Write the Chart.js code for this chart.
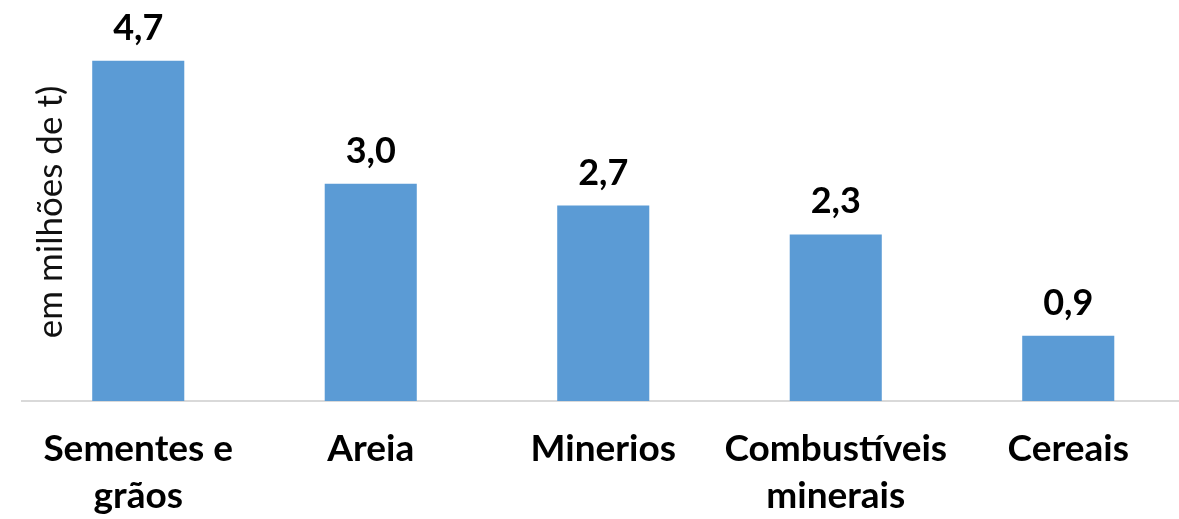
<!DOCTYPE html>
<html>
<head>
<meta charset="utf-8">
<script src="https://cdn.jsdelivr.net/npm/chart.js@4.4.0/dist/chart.umd.min.js"></script>
<style>
    html, body { margin: 0; padding: 0; background: #fff; overflow: hidden; }
    #wrap { width: 1190px; height: 519px; position: relative; }
</style>
</head>
<body>
<div id="wrap"><canvas id="chart"></canvas></div>
<script>
// Chart data
const categories = [['Sementes e', 'grãos'], 'Areia', 'Minerios', ['Combustíveis', 'minerais'], 'Cereais'];
const values = [4.7, 3.0, 2.7, 2.3, 0.9];
const yAxisTitle = 'em milhões de t)';

const FONT = 'Lato, "Open Sans", sans-serif';

// value labels above each bar, with a comma as decimal mark
const valueLabels = {
    id: 'valueLabels',
    afterDatasetsDraw(chart) {
        const ctx = chart.ctx;
        const meta = chart.getDatasetMeta(0);
        ctx.save();
        ctx.font = 'bold 36px ' + FONT;
        ctx.fillStyle = '#000';
        ctx.textAlign = 'center';
        ctx.textBaseline = 'alphabetic';
        meta.data.forEach((bar, i) => {
            const txt = values[i].toFixed(1).replace('.', ',');
            ctx.fillText(txt, bar.x, bar.y - 21);
        });
        ctx.restore();
    }
};

// rotated axis title sitting inside the plot, like the original
const sideTitle = {
    id: 'sideTitle',
    afterDraw(chart) {
        const ctx = chart.ctx;
        ctx.save();
        ctx.translate(51, 212);
        ctx.rotate(-Math.PI / 2);
        ctx.font = '35px ' + FONT;
        ctx.fillStyle = '#111';
        ctx.textAlign = 'center';
        ctx.textBaseline = 'middle';
        ctx.fillText(yAxisTitle, 0, 0);
        ctx.restore();
    }
};

new Chart(document.getElementById('chart'), {
    type: 'bar',
    data: {
        labels: categories,
        datasets: [{
            data: values,
            backgroundColor: '#5b9bd5',
            categoryPercentage: 1,
            barPercentage: 0.396
        }]
    },
    options: {
        responsive: true,
        maintainAspectRatio: false,
        animation: false,
        layout: { padding: { left: 22, right: 5.5, top: 39, bottom: 0 } },
        plugins: {
            legend: { display: false },
            tooltip: { enabled: false }
        },
        scales: {
            x: {
                grid: { display: false, drawTicks: false },
                border: { color: '#d9d9d9', width: 2 },
                ticks: {
                    color: '#000',
                    font: { family: FONT, size: 37, weight: 'bold', lineHeight: 1.27 },
                    padding: 25,
                    maxRotation: 0,
                    autoSkip: false
                },
                afterFit(scale) { scale.height = 118; }
            },
            y: {
                display: false,
                min: 0,
                max: 5
            }
        }
    },
    plugins: [valueLabels, sideTitle]
});
</script>
</body>
</html>
